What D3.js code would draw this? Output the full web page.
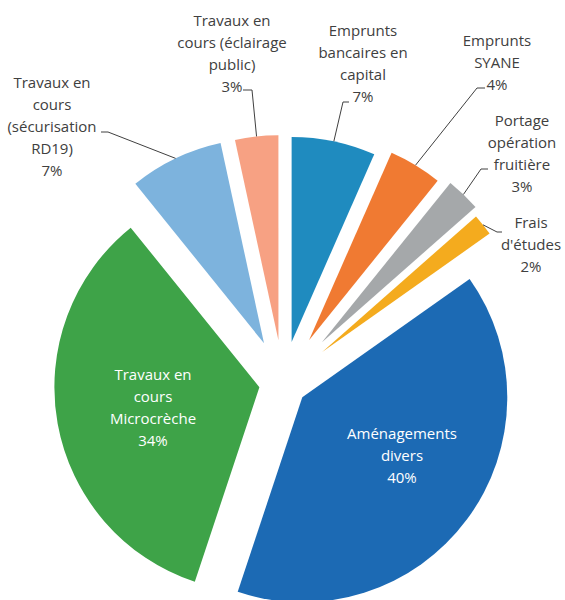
<!DOCTYPE html>
<html>
<head>
<meta charset="utf-8">
<script src="https://cdn.jsdelivr.net/npm/d3@7"></script>
<style>
  body { margin: 0; background: #fff; }
  text { font-family: "Open Sans", sans-serif; font-size: 15px; }
</style>
</head>
<body>
<div id="viz"></div>
<script>
// data: slices, clockwise from 12 o'clock ("|" = line break in label)
var categories = [
  "Emprunts|bancaires en|capital",
  "Emprunts|SYANE",
  "Portage|opération|fruitière",
  "Frais|d'études",
  "Aménagements|divers",
  "Travaux en|cours|Microcrèche",
  "Travaux en|cours|(sécurisation|RD19)",
  "Travaux en|cours (éclairage|public)"
];
var shares = [6.6, 4.2, 2.7, 1.7, 39.9, 34.1, 7.4, 3.4];
var colors = ["#1f8bbf", "#f07a32", "#a5a8aa", "#f4ab1e", "#1c6ab4", "#3ea348", "#7db3dd", "#f7a183"];

// layout
var w = 565, h = 600;
var cx = 283, cy = 383, R = 205;
var explode = [42, 50, 56, 50, 24, 24, 44, 43];
var inside = [false, false, false, false, true, true, false, false];
var labelXY = [[363, 30], [497, 40], [522, 120], [531, 222], [402, 433], [153, 374], [52, 82], [232, 20]];
// knee x, knee y, end x of the short horizontal leader piece
var knees = [[343, 102, 349], [477, 88, 485], [481, 169, 488], [497, 232, 502], null, null, [108, 132, 101], [252, 90, 243]];
var lineH = 22;

var svg = d3.select("#viz").append("svg")
  .attr("width", w)
  .attr("height", h);

var pie = d3.pie().sort(null).value(function(d) { return d; });
var arcs = pie(shares);

var arc = d3.arc().innerRadius(0).outerRadius(R);
var rimArc = d3.arc().innerRadius(R).outerRadius(R);

var offset = function(d, i) {
  var a = (d.startAngle + d.endAngle) / 2;
  return [explode[i] * Math.sin(a), -explode[i] * Math.cos(a)];
};

var g = svg.append("g").attr("transform", "translate(" + cx + "," + cy + ")");

g.selectAll("path.slice")
  .data(arcs)
  .enter()
  .append("path")
  .attr("class", "slice")
  .attr("d", arc)
  .attr("fill", function(d, i) { return colors[i]; })
  .attr("transform", function(d, i) {
    var o = offset(d, i);
    return "translate(" + o[0] + "," + o[1] + ")";
  });

// leader lines
arcs.forEach(function(d, i) {
  if (!knees[i]) return;
  var o = offset(d, i);
  var c = rimArc.centroid(d);
  var p0 = [cx + c[0] + o[0], cy + c[1] + o[1]];
  var k = knees[i];
  svg.append("polyline")
    .attr("points", [p0, [k[0], k[1]], [k[2], k[1]]].map(function(p) { return p.join(","); }).join(" "))
    .attr("fill", "none")
    .attr("stroke", "#404040")
    .attr("stroke-width", 1);
});

// labels
arcs.forEach(function(d, i) {
  var lines = categories[i].split("|").concat([Math.round(shares[i]) + "%"]);
  var t = svg.append("text")
    .attr("text-anchor", "middle")
    .attr("fill", inside[i] ? "#ffffff" : "#404040");
  lines.forEach(function(s, j) {
    t.append("tspan")
      .attr("x", labelXY[i][0])
      .attr("y", labelXY[i][1] + 6 + j * lineH)
      .text(s);
  });
});
</script>
</body>
</html>
